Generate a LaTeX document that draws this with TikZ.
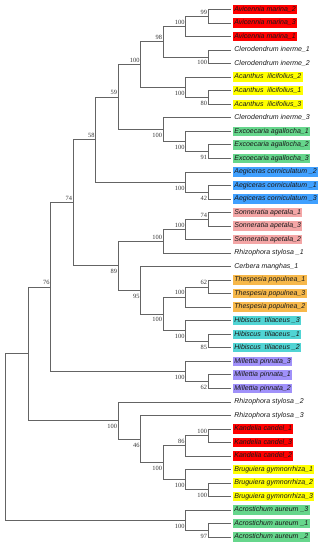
\documentclass[tikz,border=0pt]{standalone}
\usepackage{fontspec}
\setmainfont{Liberation Serif}
\newfontfamily\leaffont{Liberation Sans}
\definecolor{cred}{RGB}{255,0,0}
\definecolor{cyel}{RGB}{255,255,0}
\definecolor{cgrn}{RGB}{102,214,140}
\definecolor{cblu}{RGB}{64,160,255}
\definecolor{cpnk}{RGB}{244,166,166}
\definecolor{corg}{RGB}{247,184,74}
\definecolor{ccyn}{RGB}{80,212,212}
\definecolor{cpur}{RGB}{160,145,250}
\definecolor{cbranch}{RGB}{100,100,100}
\begin{document}
\begin{tikzpicture}[x=1pt,y=-1pt,
  branch/.style={draw=cbranch, line width=0.7pt},
  leaf/.style={anchor=west, font=\leaffont\itshape\fontsize{7}{8}\selectfont,
    inner xsep=1.4pt, inner ysep=1.3pt, text height=5.2pt, text depth=1.6pt, text=black!90},
  bsa/.style={anchor=south east, inner sep=0pt, xshift=-1pt, yshift=1.8pt,
    font=\fontsize{6.4}{7}\selectfont, text=black!80},
  bsb/.style={anchor=north east, inner sep=0pt, xshift=-1pt, yshift=-3.6pt,
    font=\fontsize{6.4}{7}\selectfont, text=black!80}]
\useasboundingbox (0,0) rectangle (327,550);
% leaves
\foreach \i/\t/\c in {
 0/{Avicennia marina\_2}/cred,
 1/{Avicennia marina\_3}/cred,
 2/{Avicennia marina\_1}/cred,
 3/{Clerodendrum inerme\_1}/none,
 4/{Clerodendrum inerme\_2}/none,
 5/{Acanthus\ \ ilicifolius\_2}/cyel,
 6/{Acanthus\ \ ilicifolius\_1}/cyel,
 7/{Acanthus\ \ ilicifolius\_3}/cyel,
 8/{Clerodendrum inerme\_3}/none,
 9/{Excoecaria agallocha\_1}/cgrn,
 10/{Excoecaria agallocha\_2}/cgrn,
 11/{Excoecaria agallocha\_3}/cgrn,
 12/{Aegiceras corniculatum \_2}/cblu,
 13/{Aegiceras corniculatum \_1}/cblu,
 14/{Aegiceras corniculatum \_3}/cblu,
 15/{Sonneratia apetala\_1}/cpnk,
 16/{Sonneratia apetala\_3}/cpnk,
 17/{Sonneratia apetala\_2}/cpnk,
 18/{Rhizophora stylosa \_1}/none,
 19/{Cerbera manghas\_1}/none,
 20/{Thespesia populnea\_1}/corg,
 21/{Thespesia populnea\_3}/corg,
 22/{Thespesia populnea\_2}/corg,
 23/{Hibiscus\ \ tiliaceus \_3}/ccyn,
 24/{Hibiscus\ \ tiliaceus \_1}/ccyn,
 25/{Hibiscus\ \ tiliaceus \_2}/ccyn,
 26/{Millettia pinnata\_3}/cpur,
 27/{Millettia pinnata\_1}/cpur,
 28/{Millettia pinnata\_2}/cpur,
 29/{Rhizophora stylosa \_2}/none,
 30/{Rhizophora stylosa \_3}/none,
 31/{Kandelia candel\_1}/cred,
 32/{Kandelia candel\_3}/cred,
 33/{Kandelia candel\_2}/cred,
 34/{Bruguiera gymnorrhiza\_1}/cyel,
 35/{Bruguiera gymnorrhiza\_2}/cyel,
 36/{Bruguiera gymnorrhiza\_3}/cyel,
 37/{Acrostichum aureum \_3}/cgrn,
 38/{Acrostichum aureum \_1}/cgrn,
 39/{Acrostichum aureum \_2}/cgrn}{
  \pgfmathsetmacro\yy{9.5+13.53*\i}
  \coordinate (l\i) at (230.7,\yy);
  \node[leaf,fill=\c] (t\i) at (232.8,\yy) {\t};
}
% internal nodes
\coordinate (nAv1) at (208.2,16.27);
\coordinate (nAv)  at (185.7,26.41);
\coordinate (nCl)  at (208.2,56.86);
\coordinate (n98)  at (163.2,41.63);
\coordinate (nAc1) at (208.2,97.45);
\coordinate (nAc)  at (185.7,87.30);
\coordinate (nH)   at (140.7,64.47);
\coordinate (nEx1) at (208.2,151.57);
\coordinate (nEx)  at (185.7,141.42);
\coordinate (nClEx) at (163.2,129.58);
\coordinate (n59)  at (118.2,97.02);
\coordinate (nAg1) at (208.2,192.16);
\coordinate (nAg)  at (185.7,182.01);
\coordinate (n58)  at (95.7,139.51);
\coordinate (nSo1) at (208.2,219.22);
\coordinate (nSo)  at (185.7,229.36);
\coordinate (nSoR) at (163.2,241.20);
\coordinate (nTh1) at (208.2,286.87);
\coordinate (nTh)  at (185.7,297.01);
\coordinate (nHi1) at (208.2,340.99);
\coordinate (nHi)  at (185.7,330.84);
\coordinate (nTH)  at (163.2,313.93);
\coordinate (n95)  at (140.7,290.25);
\coordinate (n89)  at (118.2,265.73);
\coordinate (n74)  at (73.2,202.62);
\coordinate (nMi1) at (208.2,381.58);
\coordinate (nMi)  at (185.7,371.43);
\coordinate (n76)  at (50.7,287.02);
\coordinate (nKa1) at (208.2,435.70);
\coordinate (nKa)  at (185.7,445.84);
\coordinate (nBr1) at (208.2,489.82);
\coordinate (nBr)  at (185.7,479.67);
\coordinate (nKB)  at (163.2,462.76);
\coordinate (n46)  at (140.7,439.08);
\coordinate (nRz)  at (118.2,420.47);
\coordinate (nA)   at (28.2,353.75);
\coordinate (nAr1) at (208.2,530.41);
\coordinate (nAr)  at (185.7,520.26);
\coordinate (root) at (5.7,437.00);
% branches
\foreach \p/\c in {nAv1/l0,nAv1/l1,nAv/nAv1,nAv/l2,nCl/l3,nCl/l4,n98/nAv,n98/nCl,
  nAc1/l6,nAc1/l7,nAc/l5,nAc/nAc1,nH/n98,nH/nAc,nEx1/l10,nEx1/l11,nEx/l9,nEx/nEx1,
  nClEx/l8,nClEx/nEx,n59/nH,n59/nClEx,nAg1/l13,nAg1/l14,nAg/l12,nAg/nAg1,n58/n59,n58/nAg,
  nSo1/l15,nSo1/l16,nSo/nSo1,nSo/l17,nSoR/nSo,nSoR/l18,nTh1/l20,nTh1/l21,nTh/nTh1,nTh/l22,
  nHi1/l24,nHi1/l25,nHi/l23,nHi/nHi1,nTH/nTh,nTH/nHi,n95/l19,n95/nTH,n89/nSoR,n89/n95,
  n74/n58,n74/n89,nMi1/l27,nMi1/l28,nMi/l26,nMi/nMi1,n76/n74,n76/nMi,
  nKa1/l31,nKa1/l32,nKa/nKa1,nKa/l33,nBr1/l35,nBr1/l36,nBr/l34,nBr/nBr1,nKB/nKa,nKB/nBr,
  n46/l30,n46/nKB,nRz/l29,nRz/n46,nA/n76,nA/nRz,nAr1/l38,nAr1/l39,nAr/l37,nAr/nAr1,
  root/nA,root/nAr}{
  \draw[branch] (\p) |- (\c);
}
% bootstrap values
\node[bsa] (bAv1) at (nAv1) {99};
\node[bsa] (bAv) at (nAv) {100};
\node[bsb] (bCl) at (nCl) {100};
\node[bsa] (b98) at (n98) {98};
\node[bsb] (bAc1) at (nAc1) {80};
\node[bsb] (bAc) at (nAc) {100};
\node[bsa] (bH) at (nH) {100};
\node[bsb] (bEx1) at (nEx1) {91};
\node[bsb] (bEx) at (nEx) {100};
\node[bsb] (bClEx) at (nClEx) {100};
\node[bsa] (b59) at (n59) {59};
\node[bsb] (bAg1) at (nAg1) {42};
\node[bsb] (bAg) at (nAg) {100};
\node[bsa] (b58) at (n58) {58};
\node[bsa] (bSo1) at (nSo1) {74};
\node[bsa] (bSo) at (nSo) {100};
\node[bsa] (bSoR) at (nSoR) {100};
\node[bsa] (bTh1) at (nTh1) {62};
\node[bsa] (bTh) at (nTh) {100};
\node[bsb] (bHi1) at (nHi1) {85};
\node[bsb] (bHi) at (nHi) {100};
\node[bsb] (bTH) at (nTH) {100};
\node[bsb] (b95) at (n95) {95};
\node[bsb] (b89) at (n89) {89};
\node[bsa] (b74) at (n74) {74};
\node[bsb] (bMi1) at (nMi1) {62};
\node[bsb] (bMi) at (nMi) {100};
\node[bsa] (b76) at (n76) {76};
\node[bsa] (bKa1) at (nKa1) {100};
\node[bsa] (bKa) at (nKa) {86};
\node[bsb] (bBr1) at (nBr1) {100};
\node[bsb] (bBr) at (nBr) {100};
\node[bsb] (bKB) at (nKB) {100};
\node[bsb] (b46) at (n46) {46};
\node[bsb] (bRz) at (nRz) {100};
\node[bsb] (bAr1) at (nAr1) {97};
\node[bsb] (bAr) at (nAr) {100};
\end{tikzpicture}
\end{document}
